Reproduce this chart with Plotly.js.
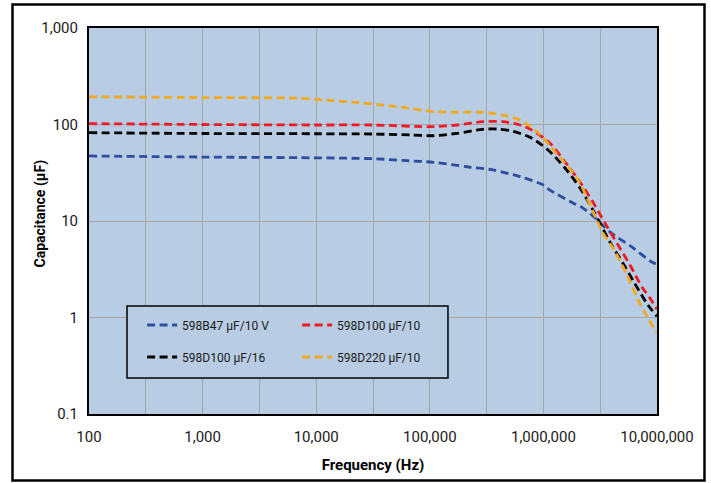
<!DOCTYPE html>
<html><head><meta charset="utf-8">
<script src="https://cdn.plot.ly/plotly-3.0.1.min.js"></script>
<style>html,body{margin:0;padding:0;background:#fff;} #chart{width:711px;height:483px;}</style>
</head><body><div id="chart"></div>
<script>
// ---- data ----
const seriesNames = ["598B47 µF/10 V", "598D100 µF/10", "598D100 µF/16", "598D220 µF/10"];

const blueFreq = [100, 1000, 7200, 31600, 63000, 107000, 212000, 360000, 622000, 1000000, 1140000, 1820000, 2230000, 2680000, 3850000, 6000000, 9000000, 10000000];
const blueCap  = [47.2, 46.0, 45.3, 44.2, 42.2, 40.6, 36.5, 33.8, 28.8, 23.6, 20.9, 15.4, 13.6, 11.5, 7.7, 5.38, 3.76, 3.55];

const redFreq = [100, 1000, 10000, 31600, 107000, 173000, 294000, 440000, 622000, 762000, 1140000, 1550000, 2100000, 2730000, 3490000, 4440000, 5780000, 7370000, 8670000, 10000000];
const redCap  = [102, 100, 98.8, 98.8, 94.9, 98.8, 107, 107, 98.8, 89.8, 64.3, 40.9, 25.4, 15.7, 9.5, 5.9, 3.5, 2.07, 1.59, 1.22];

const blackFreq = [100, 1000, 10000, 31600, 67000, 107000, 173000, 294000, 390000, 508000, 762000, 1100000, 1550000, 2100000, 2730000, 3850000, 5000000, 6330000, 8300000, 10000000];
const blackCap  = [82.2, 80.7, 80.2, 79.7, 77.9, 76.5, 81, 89.2, 89.8, 86.3, 73.7, 54.4, 35.4, 22, 13, 6.06, 3.67, 2.28, 1.35, 1.03];

const orangeFreq = [100, 1000, 7200, 14100, 24300, 38700, 67000, 107000, 173000, 288000, 440000, 622000, 879000, 1460000, 2020000, 3350000, 4100000, 5450000, 6820000, 8300000, 10000000];
const orangeCap  = [194, 190, 187, 176.5, 168, 159, 147, 136, 134, 134, 125, 111, 84, 42.9, 26.6, 7.5, 5.25, 2.76, 1.52, 0.99, 0.69];

const xTickVals = [100, 316.23, 1000, 3162.3, 10000, 31623, 100000, 316228, 1000000, 3162278, 10000000];
const xTickText = ["100", "", "1,000", "", "10,000", "", "100,000", "", "1,000,000", "", "10,000,000"];
const yTickVals = [0.1, 1, 10, 100, 1000];
const yTickText = ["0.1", "1", "10", "100", "1,000"];

const xTitle = "Frequency (Hz)";
const yTitle = "Capacitance (µF)";

// ---- styling ----
const colors = ["#2e4d9e", "#ed1c24", "#000000", "#f2a922"];
const FONT = "Roboto, 'Liberation Sans', sans-serif";
const dashPat = "8px,4.5px";

const xs = [blueFreq, redFreq, blackFreq, orangeFreq];
const ys = [blueCap, redCap, blackCap, orangeCap];
const legendIds = ["legend", "legend2", "legend3", "legend4"];

const traces = xs.map((x, i) => ({
  x: x, y: ys[i], name: seriesNames[i], type: "scatter", mode: "lines",
  line: {color: colors[i], width: 2.8, dash: dashPat, shape: "spline", smoothing: 0.8},
  legend: legendIds[i], hoverinfo: "skip"
}));

const legendBase = {
  bgcolor: "rgba(0,0,0,0)", borderwidth: 0, xanchor: "left", yanchor: "middle",
  font: {family: FONT, size: 12, color: "#1a1a1a"}, itemwidth: 30
};
const colL = 0.0935, colR = 0.3664, row1 = 0.2306, row2 = 0.1477;

const layout = {
  width: 711, height: 483,
  margin: {l: 89, r: 54, t: 28, b: 69},
  paper_bgcolor: "#ffffff", plot_bgcolor: "#b8cce4",
  font: {family: FONT, size: 15, color: "#1a1a1a"},
  showlegend: true,
  legend:  Object.assign({}, legendBase, {x: colL, y: row1}),
  legend2: Object.assign({}, legendBase, {x: colR, y: row1}),
  legend3: Object.assign({}, legendBase, {x: colL, y: row2}),
  legend4: Object.assign({}, legendBase, {x: colR, y: row2}),
  xaxis: {
    type: "log", range: [2, 7], tickvals: xTickVals, ticktext: xTickText,
    showgrid: true, gridcolor: "#a6a6a6", gridwidth: 1,
    showline: true, linecolor: "#000", linewidth: 2, mirror: true,
    ticks: "", ticklabelstandoff: 8, zeroline: false,
    tickfont: {family: FONT, size: 15, color: "#1a1a1a"},
    title: {text: xTitle, standoff: 14, font: {family: FONT, size: 15, color: "#000", weight: "bold"}}
  },
  yaxis: {
    type: "log", range: [-1, 3], tickvals: yTickVals, ticktext: yTickText,
    showgrid: true, gridcolor: "#a6a6a6", gridwidth: 1,
    showline: true, linecolor: "#000", linewidth: 2, mirror: true,
    ticks: "", ticklabelstandoff: 6, zeroline: false,
    tickfont: {family: FONT, size: 15, color: "#1a1a1a"}
  },
  annotations: [
    {text: yTitle, xref: "paper", yref: "paper", x: -0.0845, y: 0.5194, xanchor: "center", yanchor: "middle",
     textangle: -90, showarrow: false, font: {family: FONT, size: 14, color: "#000", weight: "bold"}}
  ],
  shapes: [
    {type: "rect", xref: "paper", yref: "paper", x0: -0.1347, x1: 1.0836, y0: -0.1723, y1: 1.0609,
     line: {color: "#000", width: 2.5}, fillcolor: "rgba(0,0,0,0)", layer: "below"},
    {type: "rect", xref: "paper", yref: "paper", x0: 0.0669, x1: 0.6320, y0: 0.0933, y1: 0.2798,
     line: {color: "#000", width: 1.5}, fillcolor: "#b8cce4", layer: "above"}
  ]
};

Plotly.newPlot("chart", traces, layout, {displayModeBar: false, staticPlot: true});
</script></body></html>
